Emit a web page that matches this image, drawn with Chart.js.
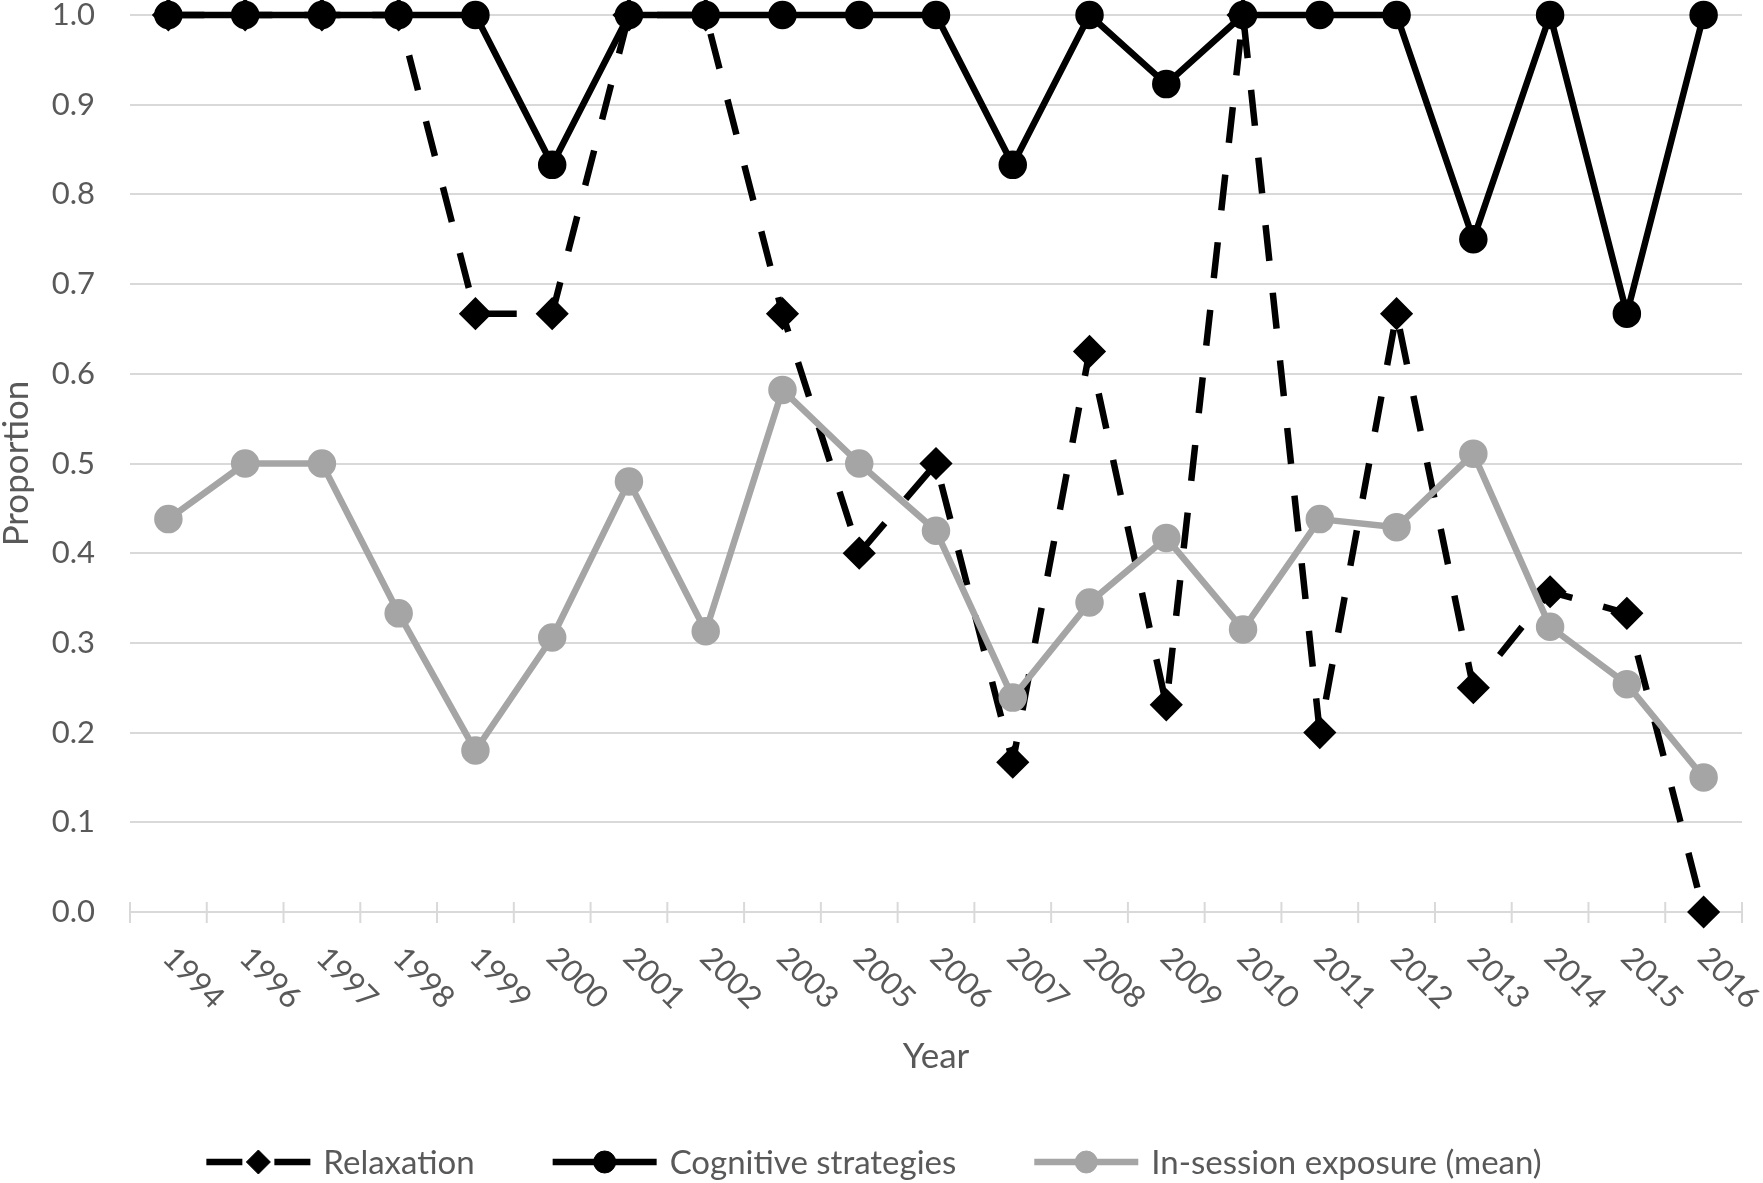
<!DOCTYPE html>
<html>
<head>
<meta charset="utf-8">
<script src="https://cdn.jsdelivr.net/npm/chart.js@4.4.1/dist/chart.umd.min.js"></script>
<style>
  html, body { margin: 0; padding: 0; background: #fff; }
  #wrap { width: 1763px; height: 1183px; position: relative; }
</style>
</head>
<body>
<div id="wrap"><canvas id="chart"></canvas></div>
<script>
// Data
const years = ['1994', '1996', '1997', '1998', '1999', '2000', '2001', '2002', '2003', '2005', '2006',
  '2007', '2008', '2009', '2010', '2011', '2012', '2013', '2014', '2015', '2016'];
const relaxation = [1, 1, 1, 1, 0.667, 0.667, 1, 1, 0.667, 0.4, 0.5,
  0.167, 0.625, 0.231, 1, 0.2, 0.667, 0.25, 0.357, 0.333, 0];
const cognitive = [1, 1, 1, 1, 1, 0.833, 1, 1, 1, 1, 1,
  0.833, 1, 0.923, 1, 1, 1, 0.75, 1, 0.667, 1];
const exposure = [0.438, 0.5, 0.5, 0.333, 0.18, 0.306, 0.48, 0.313, 0.582, 0.5, 0.425,
  0.239, 0.345, 0.417, 0.315, 0.438, 0.429, 0.511, 0.318, 0.254, 0.15];
const yMin = 0, yMax = 1, yStep = 0.1;

const FONT = 'Lato, "Open Sans", sans-serif';
const TEXT = '#595959';
const GRID = '#d9d9d9';
const TICK_FS = 31;
const TITLE_FS = 35;
const LEGEND_FS = 33;

// Excel style extras: crossing tick marks, slanted year labels, axis title, legend
const excelExtras = {
  id: 'excelExtras',
  beforeDatasetsDraw(chart) {
    const ctx = chart.ctx, xs = chart.scales.x, area = chart.chartArea;
    ctx.save();
    ctx.strokeStyle = GRID;
    ctx.lineWidth = 2;
    for (let i = 0; i <= years.length; i++) {
      let px;
      if (i === 0) px = area.left;
      else if (i === years.length) px = area.right;
      else px = (xs.getPixelForValue(i - 1) + xs.getPixelForValue(i)) / 2;
      ctx.beginPath();
      ctx.moveTo(px, area.bottom - 10);
      ctx.lineTo(px, area.bottom + 11);
      ctx.stroke();
    }
    ctx.restore();
  },
  afterDraw(chart) {
    const ctx = chart.ctx, xs = chart.scales.x, area = chart.chartArea;
    ctx.save();
    ctx.fillStyle = TEXT;
    ctx.textAlign = 'center';
    ctx.textBaseline = 'middle';

    // year labels, turned 45 degrees clockwise
    ctx.font = TICK_FS + 'px ' + FONT;
    years.forEach(function (yr, i) {
      const px = xs.getPixelForValue(i);
      ctx.save();
      ctx.translate(px + 25, area.bottom + 66);
      ctx.rotate(Math.PI / 4);
      ctx.fillText(yr, 0, 0);
      ctx.restore();
    });

    // x axis title
    ctx.font = TITLE_FS + 'px ' + FONT;
    ctx.fillText('Year', (area.left + area.right) / 2, 1057);

    // legend
    ctx.font = LEGEND_FS + 'px ' + FONT;
    const lineLen = 104, textGap = 13, itemGap = 78, ly = 1162;
    const sets = chart.data.datasets;
    let total = 0;
    sets.forEach(function (ds, i) {
      total += lineLen + textGap + ctx.measureText(ds.label).width;
      if (i < sets.length - 1) total += itemGap;
    });
    let lx = 874 - total / 2;
    ctx.textAlign = 'left';
    sets.forEach(function (ds) {
      ctx.save();
      ctx.strokeStyle = ds.borderColor;
      ctx.lineWidth = ds.borderWidth;
      ctx.setLineDash(ds.borderDash || []);
      ctx.beginPath();
      ctx.moveTo(lx, ly);
      ctx.lineTo(lx + lineLen, ly);
      ctx.stroke();
      ctx.setLineDash([]);
      ctx.fillStyle = ds.pointBackgroundColor;
      ctx.strokeStyle = ds.pointBorderColor;
      ctx.lineWidth = 1;
      Chart.helpers.drawPoint(ctx, {
        pointStyle: ds.pointStyle, radius: ds.pointRadius, rotation: 0, borderWidth: 1
      }, lx + lineLen / 2, ly);
      ctx.restore();
      ctx.fillText(ds.label, lx + lineLen + textGap, ly + 1);
      lx += lineLen + textGap + ctx.measureText(ds.label).width + itemGap;
    });
    ctx.restore();
  }
};

new Chart(document.getElementById('chart'), {
  type: 'line',
  data: {
    labels: years,
    datasets: [
      {
        label: 'Relaxation',
        data: relaxation,
        borderColor: '#000000',
        borderWidth: 6.5,
        borderDash: [36, 32],
        borderCapStyle: 'butt',
        borderJoinStyle: 'round',
        pointStyle: 'rectRot',
        pointRadius: 12,
        pointBackgroundColor: '#000000',
        pointBorderColor: '#000000',
        tension: 0,
        clip: false,
        order: 3
      },
      {
        label: 'Cognitive strategies',
        data: cognitive,
        borderColor: '#000000',
        borderWidth: 6.5,
        borderJoinStyle: 'round',
        pointStyle: 'circle',
        pointRadius: 11,
        pointBackgroundColor: '#000000',
        pointBorderColor: '#000000',
        tension: 0,
        clip: false,
        order: 2
      },
      {
        label: 'In-session exposure (mean)',
        data: exposure,
        borderColor: '#a5a5a5',
        borderWidth: 6.5,
        borderJoinStyle: 'round',
        pointStyle: 'circle',
        pointRadius: 11,
        pointBackgroundColor: '#a5a5a5',
        pointBorderColor: '#a5a5a5',
        tension: 0,
        clip: false,
        order: 1
      }
    ]
  },
  options: {
    responsive: true,
    maintainAspectRatio: false,
    animation: false,
    layout: { autoPadding: false, padding: { top: 15, right: 21, left: 0, bottom: 0 } },
    plugins: {
      legend: { display: false },
      tooltip: { enabled: false }
    },
    scales: {
      x: {
        type: 'category',
        offset: true,
        grid: { display: false },
        border: { display: false },
        ticks: { display: false },
        afterFit: function (scale) { scale.height = 271; }
      },
      y: {
        min: yMin,
        max: yMax,
        grid: { color: GRID, lineWidth: 2, drawTicks: false },
        border: { display: false },
        ticks: {
          stepSize: yStep,
          padding: 35,
          color: TEXT,
          font: { family: FONT, size: TICK_FS, lineHeight: 0.9 },
          callback: function (v) { return v.toFixed(1); }
        },
        title: {
          display: true,
          text: 'Proportion',
          color: TEXT,
          padding: 0,
          font: { family: FONT, size: TITLE_FS, lineHeight: 0.95 }
        },
        afterFit: function (scale) {
          // keep the label gap from pushing the plot area down
          scale.width = 130;
          scale.paddingTop = 14;
          scale.paddingBottom = 14;
        }
      }
    }
  },
  plugins: [excelExtras]
});
</script>
</body>
</html>
